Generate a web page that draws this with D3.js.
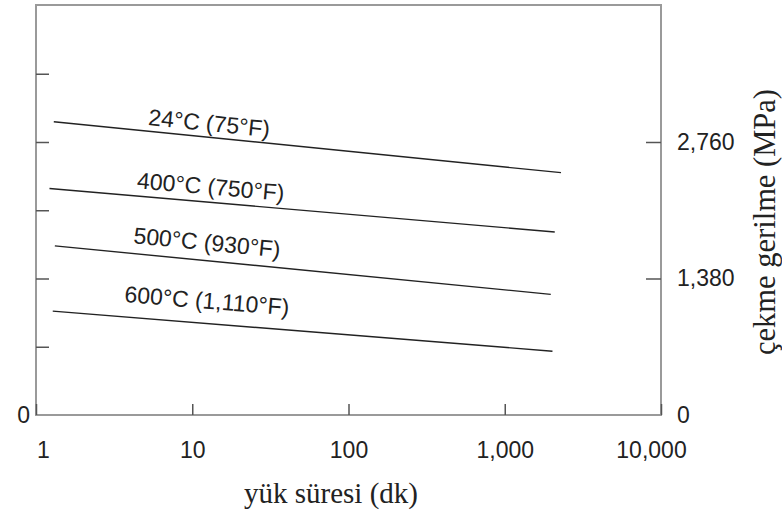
<!DOCTYPE html>
<html lang="tr">
<head>
    <meta charset="UTF-8">
    <title>yük süresi - çekme gerilme</title>
    <script src="https://d3js.org/d3.v7.min.js"></script>
    <style>
        body { margin: 0; background: #fff; }
    </style>
</head>
<body>
    <svg width="782" height="520"></svg>

    <script>
        // curve data, time in minutes, stress in MPa
        const curveNames = ["24°C (75°F)", "400°C (750°F)", "500°C (930°F)", "600°C (1,110°F)"];
        const startTime = [1.3, 1.22, 1.32, 1.28];
        const endTime = [2290, 2090, 1970, 2020];
        const startStress = [2965, 2290, 1710, 1050];
        const endStress = [2450, 1850, 1220, 645];
        // where each curve label sits (baseline centre)
        const labelTime = [12.7, 13.0, 12.3, 12.3];
        const labelStress = [2871, 2228, 1665, 1075];

        // axis ticks
        const xTicks = [1, 10, 100, 1000, 10000];
        const xTickLabels = ["1", "10", "100", "1,000", "10,000"];
        const leftTicks = [0, 690, 1380, 2070, 2760, 3450];
        const rightTicks = [0, 1380, 2760];
        const rightTickLabels = ["0", "1,380", "2,760"];

        const width = 782;
        const height = 520;
        const margin = {top: 5, right: 121, bottom: 105, left: 36};

        const svg = d3.select("svg");

        const x = d3.scaleLog()
            .domain([1, 10000])
            .range([margin.left, width - margin.right]);

        const y = d3.scaleLinear()
            .domain([0, 4145])
            .range([height - margin.bottom, margin.top]);

        const sansFont = "'Liberation Sans', Arial, sans-serif";
        const serifFont = "'Liberation Serif', 'Times New Roman', serif";
        const labelSize = 23;

        // frame
        svg.append("rect")
            .attr("x", x(1))
            .attr("y", y(4145))
            .attr("width", x(10000) - x(1))
            .attr("height", y(0) - y(4145))
            .attr("fill", "none")
            .attr("stroke", "#9a9a9a")
            .attr("stroke-width", 2);

        // bottom axis (ticks pointing inward)
        const xAxis = svg.append("g")
            .attr("transform", `translate(0,${y(0)})`)
            .call(d3.axisBottom(x)
                .tickValues(xTicks)
                .tickSize(-11)
                .tickPadding(27)
                .tickFormat((d, i) => xTickLabels[i]));
        xAxis.select(".domain").remove();
        xAxis.selectAll(".tick line").attr("stroke", "#555").attr("stroke-width", 1.5);
        xAxis.selectAll(".tick text")
            .attr("font-family", sansFont)
            .attr("font-size", labelSize)
            .attr("fill", "#222")
            .attr("dx", (d, i) => i === 0 ? 7 : (i === xTicks.length - 1 ? -10 : 0));

        // left axis: only 0 is labelled
        const leftAxis = svg.append("g")
            .attr("transform", `translate(${x(1)},0)`)
            .call(d3.axisLeft(y)
                .tickValues(leftTicks)
                .tickSize(-13)
                .tickPadding(6)
                .tickFormat(d => d === 0 ? "0" : ""));
        leftAxis.select(".domain").remove();
        leftAxis.selectAll(".tick line")
            .attr("stroke", "#555")
            .attr("stroke-width", 1.5)
            .attr("opacity", d => d === 0 ? 0 : 1);
        leftAxis.selectAll(".tick text")
            .attr("font-family", sansFont)
            .attr("font-size", labelSize)
            .attr("fill", "#222");

        // right axis
        const rightAxis = svg.append("g")
            .attr("transform", `translate(${x(10000)},0)`)
            .call(d3.axisRight(y)
                .tickValues(rightTicks)
                .tickSize(-15)
                .tickPadding(16)
                .tickFormat((d, i) => rightTickLabels[i]));
        rightAxis.select(".domain").remove();
        rightAxis.selectAll(".tick line")
            .attr("stroke", "#555")
            .attr("stroke-width", 1.5)
            .attr("opacity", d => d === 0 ? 0 : 1);
        rightAxis.selectAll(".tick text")
            .attr("font-family", sansFont)
            .attr("font-size", labelSize)
            .attr("fill", "#222");

        // curves
        const curves = curveNames.map((name, i) => ({
            name: name,
            points: [[startTime[i], startStress[i]], [endTime[i], endStress[i]]],
            label: [labelTime[i], labelStress[i]]
        }));

        const line = d3.line()
            .x(d => x(d[0]))
            .y(d => y(d[1]));

        svg.selectAll(".curve")
            .data(curves)
            .enter()
            .append("path")
            .attr("class", "curve")
            .attr("d", d => line(d.points))
            .attr("fill", "none")
            .attr("stroke", "#222")
            .attr("stroke-width", 1.4);

        // curve labels, tilted along their lines
        svg.selectAll(".curve-label")
            .data(curves)
            .enter()
            .append("text")
            .attr("class", "curve-label")
            .attr("transform", d => {
                const p0 = d.points[0], p1 = d.points[1];
                const angle = Math.atan2(y(p1[1]) - y(p0[1]), x(p1[0]) - x(p0[0])) * 180 / Math.PI;
                return `translate(${x(d.label[0])},${y(d.label[1])}) rotate(${angle})`;
            })
            .attr("text-anchor", "middle")
            .attr("font-family", sansFont)
            .attr("font-size", labelSize)
            .attr("fill", "#222")
            .text(d => d.name);

        // axis titles
        svg.append("text")
            .attr("x", 331)
            .attr("y", 503)
            .attr("text-anchor", "middle")
            .attr("font-family", serifFont)
            .attr("font-size", 29)
            .attr("fill", "#222")
            .text("yük süresi (dk)");

        svg.append("text")
            .attr("transform", "translate(775,222) rotate(-90)")
            .attr("text-anchor", "middle")
            .attr("font-family", serifFont)
            .attr("font-size", 30.5)
            .attr("fill", "#222")
            .text("çekme gerilme (MPa)");
    </script>
</body>
</html>
